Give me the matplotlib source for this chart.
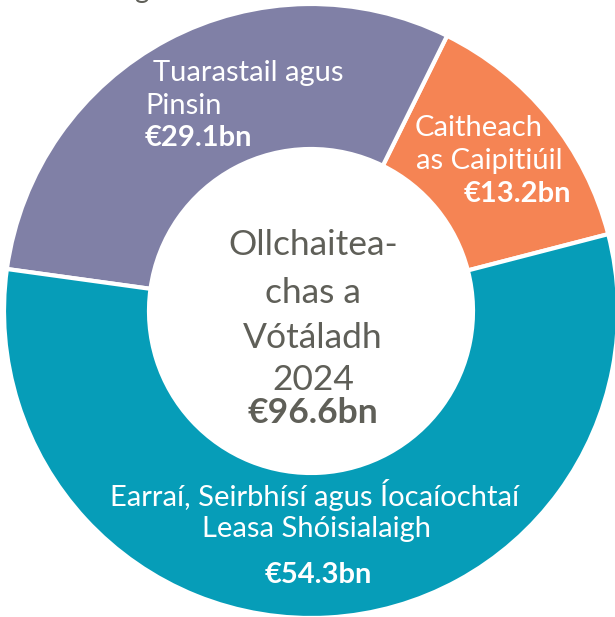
import matplotlib
matplotlib.use("Agg")
import matplotlib.pyplot as plt

plt.rcParams['font.family'] = ['Lato', 'DejaVu Sans']

# Data
categories = ["Caitheach as Caipitiúil", "Tuarastail agus Pinsin",
              "Earraí, Seirbhísí agus Íocaíochtaí Leasa Shóisialaigh"]
values = [13.2, 29.1, 54.3]
value_labels = ["€13.2bn", "€29.1bn", "€54.3bn"]
colors = ["#F58454", "#8080A6", "#069DB8"]
center_lines = ["Ollchaitea-", "chas a", "Vótáladh", "2024"]
total_label = "€96.6bn"

W, H = 615, 617
fig = plt.figure(figsize=(W / 100, H / 100), dpi=100)
ax = fig.add_axes([0, 0, 1, 1])

cx, cy_px, R, r_in = 311, 311, 307, 162
ax.pie(values, colors=colors, startangle=14.5, counterclock=True,
       center=(cx, H - cy_px), radius=R,
       wedgeprops=dict(width=R - r_in, edgecolor='white', linewidth=3),
       frame=True)
ax.set_xlim(0, W)
ax.set_ylim(0, H)
ax.set_aspect('equal')
ax.axis('off')

def T(x, y, s, **kw):
    ax.text(x, H - y, s, **kw)

white = 'white'
gray = '#5f5f58'
fs = 21

# Purple label
T(153, 73, "Tuarastail agus", color=white, fontsize=fs, ha='left', va='center')
T(145, 106, "Pinsin", color=white, fontsize=fs, ha='left', va='center')
T(145, 138, value_labels[1], color=white, fontsize=fs, ha='left', va='center', fontweight='bold')

# Orange label
T(415, 128, "Caitheach", color=white, fontsize=fs, ha='left', va='center')
T(416, 161, "as Caipitiúil", color=white, fontsize=fs, ha='left', va='center')
T(571, 194, value_labels[0], color=white, fontsize=fs, ha='right', va='center', fontweight='bold')

# Teal label
T(315, 495, "Earraí, Seirbhísí agus Íocaíochtaí", color=white, fontsize=fs, ha='center', va='center')
T(316, 529, "Leasa Shóisialaigh", color=white, fontsize=fs, ha='center', va='center')
T(318, 575, value_labels[2], color=white, fontsize=fs, ha='center', va='center', fontweight='bold')

# Center text
ys = [245, 293, 338, 380]
for y, s in zip(ys, center_lines):
    T(313, y, s, color=gray, fontsize=25.5, ha='center', va='center')
T(313, 413, total_label, color=gray, fontsize=25.5, ha='center', va='center', fontweight='bold')

# Cut-off text at top (as in the reference)
ax.text(141, H + 2, "g", color=gray, fontsize=20, ha='center', va='baseline', clip_on=False)

fig.savefig("out.png", dpi=100)
